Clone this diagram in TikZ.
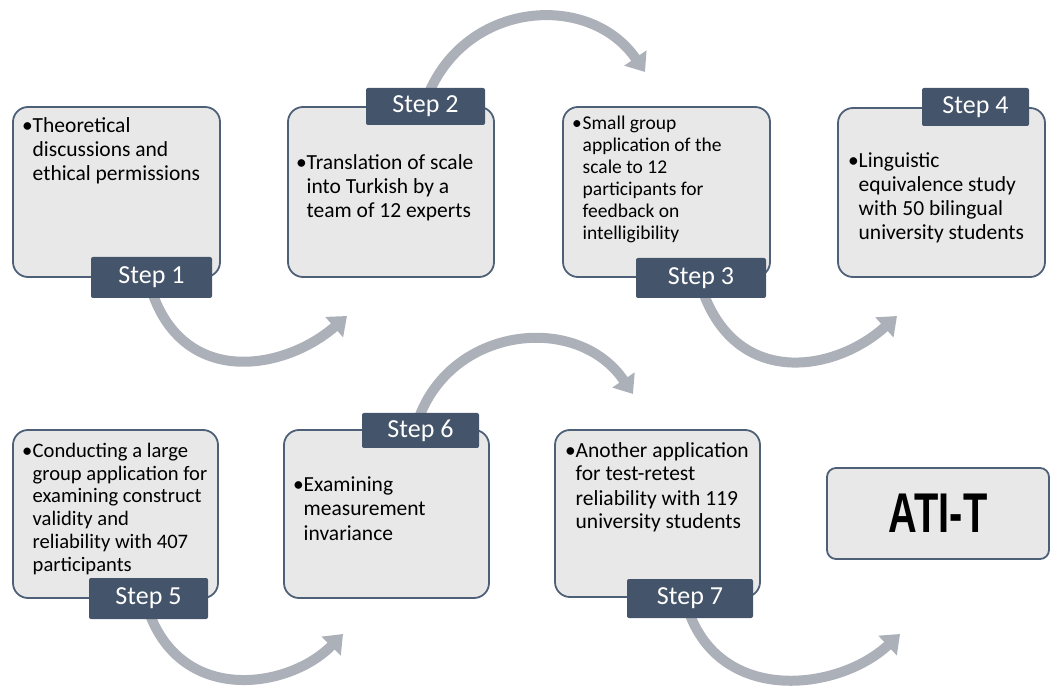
\documentclass[tikz,border=0pt]{standalone}
\usepackage{fontspec}
\setmainfont{Carlito}
\newfontfamily\atifont{Liberation Sans}
\usepackage{graphicx}
\usetikzlibrary{arrows.meta}
\definecolor{boxfill}{HTML}{E8E8E8}
\definecolor{boxline}{HTML}{4E6077}
\definecolor{stepfill}{HTML}{44546A}
\definecolor{arrowgray}{HTML}{ACB0B9}
\newcommand{\bitem}[1]{\makebox[10.5pt][l]{\textbullet}\begin{tabular}[t]{@{}l@{}}#1\end{tabular}}
\begin{document}
\begin{tikzpicture}[x=1pt,y=-1pt,
  boxstyle/.style={draw=boxline, line width=1.8pt, fill=boxfill, rounded corners=15pt, inner sep=0},
  steplabel/.style={fill=stepfill, text=white, rounded corners=2pt, inner sep=0, font=\fontsize{26}{30}\selectfont},
  flow/.style={draw=arrowgray, line width=10pt, -{Triangle[length=17pt,width=26pt]}},
  bodytext/.style={anchor=base west, inner sep=0, font=\fontsize{21.5}{24}\selectfont},
  smalltext/.style={anchor=base west, inner sep=0, font=\fontsize{19.5}{22}\selectfont},
  midtext/.style={anchor=base west, inner sep=0, font=\fontsize{20.6}{23}\selectfont}]
\useasboundingbox (0,0) rectangle (1050,692);

% arrow end points
\coordinate (a1s) at (152,292); \coordinate (a1e) at (347,316);
\coordinate (a2s) at (428,95);  \coordinate (a2e) at (645,72);
\coordinate (a3s) at (703,292); \coordinate (a3e) at (897,316);
\coordinate (a4s) at (420,415); \coordinate (a4e) at (633,394);
\coordinate (a5s) at (150,615); \coordinate (a5e) at (343,634);
\coordinate (a6s) at (690,615); \coordinate (a6e) at (900,634);

% arrows (behind boxes)
\draw[flow] (a1s) .. controls (185,388) and (285,370) .. (a1e);
\draw[flow] (a2s) .. controls (467,0) and (590,-8) .. (a2e);
\draw[flow] (a3s) .. controls (738,388) and (835,372) .. (a3e);
\draw[flow] (a4s) .. controls (455,326) and (578,313) .. (a4e);
\draw[flow] (a5s) .. controls (185,705) and (290,688) .. (a5e);
\draw[flow] (a6s) .. controls (725,705) and (840,690) .. (a6e);

% boxes
\node[boxstyle, minimum width=207pt, minimum height=170pt] (b1) at (116.5,192) {};
\node[boxstyle, minimum width=206pt, minimum height=170pt] (b2) at (391,192) {};
\node[boxstyle, minimum width=207pt, minimum height=170pt] (b3) at (666.5,192) {};
\node[boxstyle, minimum width=207pt, minimum height=169pt] (b4) at (941.5,192.5) {};
\node[boxstyle, minimum width=205pt, minimum height=168pt] (b5) at (115.5,514) {};
\node[boxstyle, minimum width=205pt, minimum height=168pt] (b6) at (386.5,514) {};
\node[boxstyle, minimum width=205pt, minimum height=167pt] (b7) at (657.5,513.5) {};
\node[boxstyle, rounded corners=9pt, minimum width=222pt, minimum height=91pt,
      font=\atifont\bfseries\fontsize{56}{60}\selectfont] (ati) at (938,513.5) {\scalebox{0.71}[1]{ATI-T}};

% texts
\node[bodytext] (t1) at (22,133) {\bitem{Theoretical\\discussions and\\ethical permissions}};
\node[bodytext] (t2) at (296,170) {\bitem{Translation of scale\\into Turkish by a\\team of 12 experts}};
\node[smalltext] (t3) at (572,130) {\bitem{Small group\\application of the\\scale to 12\\participants for\\feedback on\\intelligibility}};
\node[bodytext] (t4) at (848,168) {\bitem{Linguistic\\equivalence study\\with 50 bilingual\\university students}};
\node[midtext] (t5) at (22,457) {\bitem{Conducting a large\\group application for\\examining construct\\validity and\\reliability with 407\\participants}};
\node[bodytext] (t6) at (293,492) {\bitem{Examining\\measurement\\invariance}};
\node[bodytext] (t7) at (565,457) {\bitem{Another application\\for test-retest\\reliability with 119\\university students}};

% step labels
\node[steplabel, minimum width=121pt, minimum height=41pt] (s1) at (151.5,277.5) {Step 1};
\node[steplabel, minimum width=119pt, minimum height=37pt] (s2) at (425.5,106.5) {Step 2};
\node[steplabel, minimum width=130pt, minimum height=40pt] (s3) at (701,278) {Step 3};
\node[steplabel, minimum width=107pt, minimum height=38pt] (s4) at (975.5,107) {Step 4};
\node[steplabel, minimum width=119pt, minimum height=41pt] (s5) at (148.5,598.5) {Step 5};
\node[steplabel, minimum width=117pt, minimum height=35pt] (s6) at (420.5,430.5) {Step 6};
\node[steplabel, minimum width=126pt, minimum height=39pt] (s7) at (690,598.5) {Step 7};
\end{tikzpicture}
\end{document}
